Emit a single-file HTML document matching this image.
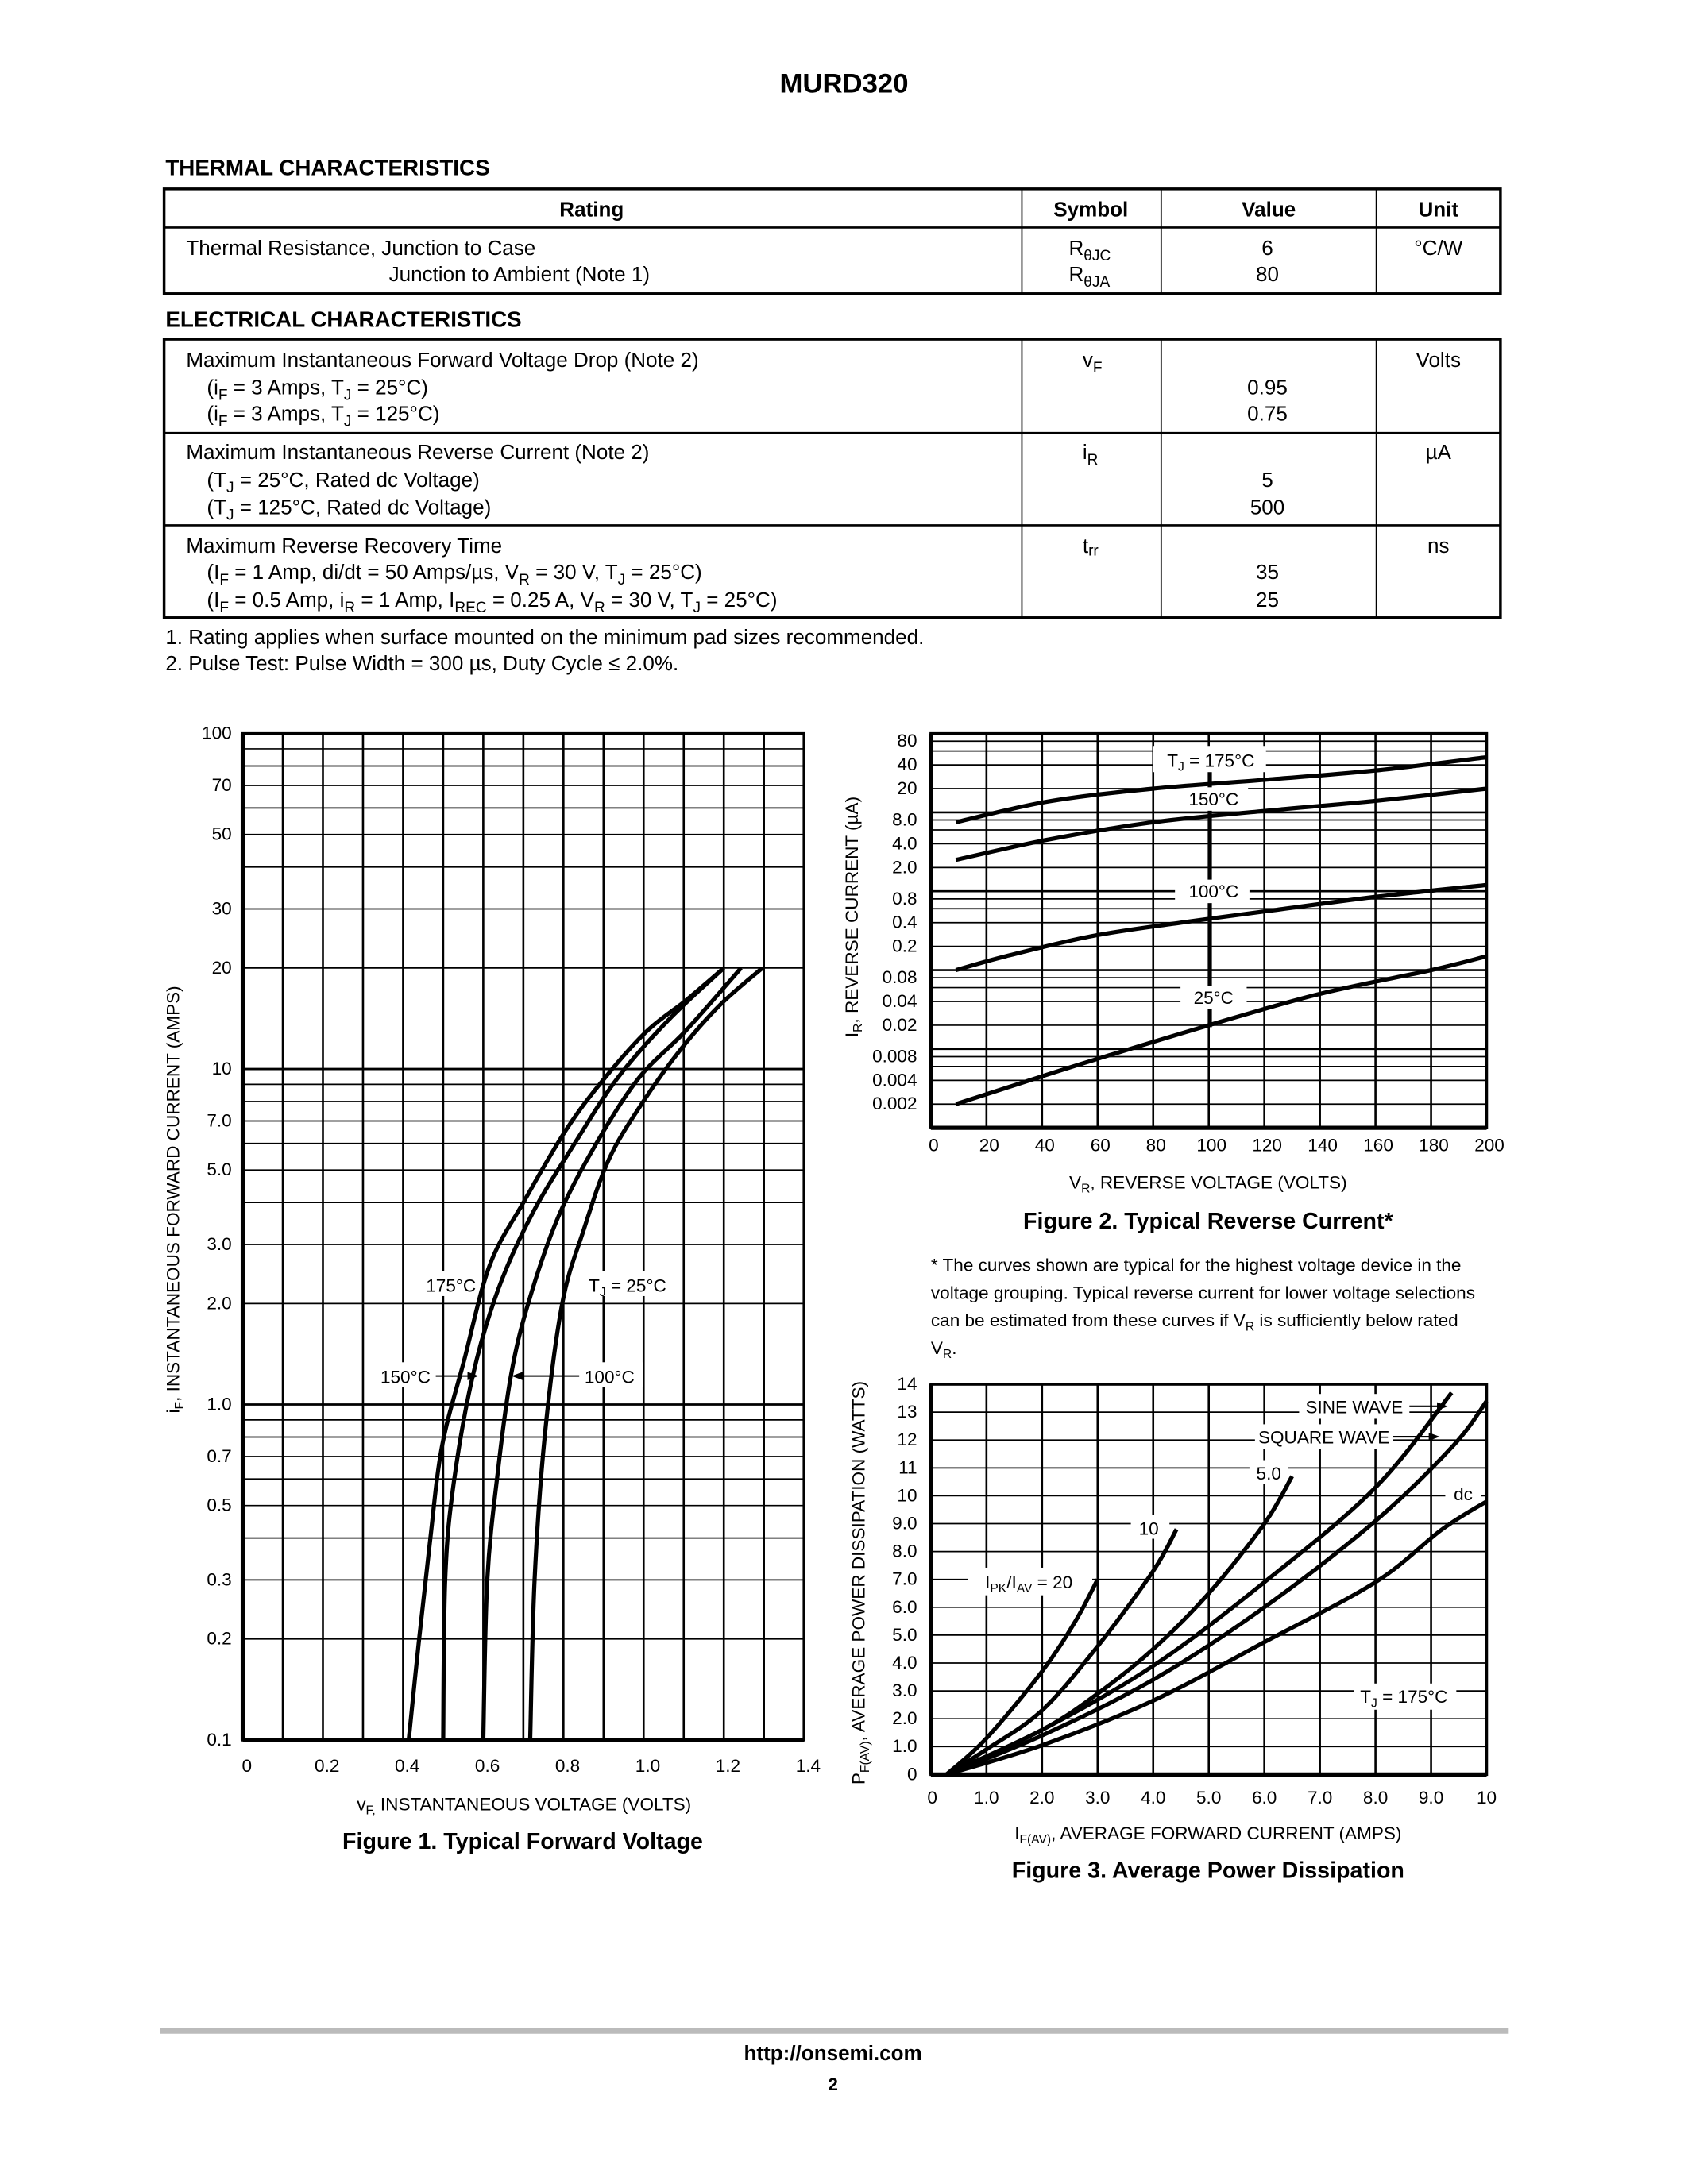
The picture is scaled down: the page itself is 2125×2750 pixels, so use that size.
<!DOCTYPE html>
<html><head><meta charset="utf-8">
<style>
html,body{margin:0;padding:0;background:#fff;}
svg{display:block;font-family:"Liberation Sans",sans-serif;}
</style></head><body>
<svg id="s" width="2125" height="2750" viewBox="0 0 1224 1584" preserveAspectRatio="none" xmlns="http://www.w3.org/2000/svg">
<rect width="1224" height="1584" fill="#fff"/>
<text x="612" y="67" font-size="20" font-weight="bold" text-anchor="middle">MURD320</text>
<text x="120" y="127" font-size="16" font-weight="bold">THERMAL CHARACTERISTICS</text>
<g stroke="#000" fill="none">
<rect x="119" y="137" width="969" height="76" stroke-width="2"/>
<line x1="119" y1="165" x2="1088" y2="165" stroke-width="1.5"/>
<line x1="741" y1="137" x2="741" y2="213" stroke-width="1"/>
<line x1="842" y1="137" x2="842" y2="213" stroke-width="1"/>
<line x1="998" y1="137" x2="998" y2="213" stroke-width="1"/>
<rect x="119" y="246" width="969" height="202" stroke-width="2"/>
<line x1="119" y1="314" x2="1088" y2="314" stroke-width="1.5"/>
<line x1="119" y1="381" x2="1088" y2="381" stroke-width="1.5"/>
<line x1="741" y1="246" x2="741" y2="448" stroke-width="1"/>
<line x1="842" y1="246" x2="842" y2="448" stroke-width="1"/>
<line x1="998" y1="246" x2="998" y2="448" stroke-width="1"/>
</g>
<g font-size="15">
<g font-weight="bold" text-anchor="middle"><text x="429" y="157">Rating</text><text x="791" y="157">Symbol</text><text x="920" y="157">Value</text><text x="1043" y="157">Unit</text></g>
<text x="135" y="185">Thermal Resistance, Junction to Case</text>
<text x="282" y="204">Junction to Ambient (Note 1)</text>
<text x="775" y="185">R<tspan font-size="11" dy="4">θJC</tspan></text>
<text x="775" y="204">R<tspan font-size="11" dy="4">θJA</tspan></text>
<g text-anchor="middle"><text x="919" y="185">6</text><text x="919" y="204">80</text><text x="1043" y="185">°C/W</text></g>
</g>
<text x="120" y="237" font-size="16" font-weight="bold">ELECTRICAL CHARACTERISTICS</text>
<g font-size="15">
<text x="135" y="266">Maximum Instantaneous Forward Voltage Drop (Note 2)</text>
<text x="150" y="286">(i<tspan font-size="11" dy="4">F</tspan><tspan dy="-4"> = 3 Amps, T</tspan><tspan font-size="11" dy="4">J</tspan><tspan dy="-4"> = 25°C)</tspan></text>
<text x="150" y="305">(i<tspan font-size="11" dy="4">F</tspan><tspan dy="-4"> = 3 Amps, T</tspan><tspan font-size="11" dy="4">J</tspan><tspan dy="-4"> = 125°C)</tspan></text>
<text x="135" y="333">Maximum Instantaneous Reverse Current (Note 2)</text>
<text x="150" y="353">(T<tspan font-size="11" dy="4">J</tspan><tspan dy="-4"> = 25°C, Rated dc Voltage)</tspan></text>
<text x="150" y="373">(T<tspan font-size="11" dy="4">J</tspan><tspan dy="-4"> = 125°C, Rated dc Voltage)</tspan></text>
<text x="135" y="401">Maximum Reverse Recovery Time</text>
<text x="150" y="420">(I<tspan font-size="11" dy="4">F</tspan><tspan dy="-4"> = 1 Amp, di/dt = 50 Amps/µs, V</tspan><tspan font-size="11" dy="4">R</tspan><tspan dy="-4"> = 30 V, T</tspan><tspan font-size="11" dy="4">J</tspan><tspan dy="-4"> = 25°C)</tspan></text>
<text x="150" y="440">(I<tspan font-size="11" dy="4">F</tspan><tspan dy="-4"> = 0.5 Amp, i</tspan><tspan font-size="11" dy="4">R</tspan><tspan dy="-4"> = 1 Amp, I</tspan><tspan font-size="11" dy="4">REC</tspan><tspan dy="-4"> = 0.25 A, V</tspan><tspan font-size="11" dy="4">R</tspan><tspan dy="-4"> = 30 V, T</tspan><tspan font-size="11" dy="4">J</tspan><tspan dy="-4"> = 25°C)</tspan></text>
<text x="785" y="266">v<tspan font-size="11" dy="4">F</tspan></text>
<text x="785" y="333">i<tspan font-size="11" dy="4">R</tspan></text>
<text x="785" y="401">t<tspan font-size="11" dy="2">rr</tspan></text>
<g text-anchor="middle">
<text x="919" y="286">0.95</text><text x="919" y="305">0.75</text>
<text x="919" y="353">5</text><text x="919" y="373">500</text>
<text x="919" y="420">35</text><text x="919" y="440">25</text>
<text x="1043" y="266">Volts</text><text x="1043" y="333">µA</text><text x="1043" y="401">ns</text>
</g>
<text x="120" y="467">1.  Rating applies when surface mounted on the minimum pad sizes recommended.</text>
<text x="120" y="486">2.  Pulse Test: Pulse Width = 300 µs, Duty Cycle ≤ 2.0%.</text>
</g>
<g id="g1"></g><g id="g2"></g><g id="g3"></g>
<g font-size="13" text-anchor="middle">
<text x="380" y="1313">v<tspan font-size="9" dy="3">F,</tspan><tspan dy="-3"> INSTANTANEOUS VOLTAGE (VOLTS)</tspan></text>
<text transform="translate(130,870) rotate(-90)">i<tspan font-size="9" dy="3">F</tspan><tspan dy="-3">, INSTANTANEOUS FORWARD CURRENT (AMPS)</tspan></text>
<text x="876" y="862">V<tspan font-size="9" dy="3">R</tspan><tspan dy="-3">, REVERSE VOLTAGE (VOLTS)</tspan></text>
<text transform="translate(622,665) rotate(-90)">I<tspan font-size="9" dy="3">R</tspan><tspan dy="-3">, REVERSE CURRENT (µA)</tspan></text>
<text x="876" y="1334">I<tspan font-size="9" dy="3">F(AV)</tspan><tspan dy="-3">, AVERAGE FORWARD CURRENT (AMPS)</tspan></text>
<text transform="translate(627,1148) rotate(-90)">P<tspan font-size="9" dy="3">F(AV)</tspan><tspan dy="-3">, AVERAGE POWER DISSIPATION (WATTS)</tspan></text>
</g>
<g font-size="16.5" font-weight="bold" text-anchor="middle">
<text x="379" y="1341">Figure 1. Typical Forward Voltage</text>
<text x="876" y="891">Figure 2. Typical Reverse Current*</text>
<text x="876" y="1362">Figure 3. Average Power Dissipation</text>
</g>
<g font-size="13">
<text x="675" y="922">* The curves shown are typical for the highest voltage device in the</text>
<text x="675" y="942">voltage grouping. Typical reverse current for lower voltage selections</text>
<text x="675" y="962">can be estimated from these curves if V<tspan font-size="9" dy="3">R</tspan><tspan dy="-3"> is sufficiently below rated</tspan></text>
<text x="675" y="982">V<tspan font-size="9" dy="3">R</tspan><tspan dy="-3">.</tspan></text>
</g>
<line x1="116" y1="1473" x2="1094" y2="1473" stroke="#bbb" stroke-width="4"/>
<text x="604" y="1494" font-size="15" font-weight="bold" text-anchor="middle">http://onsemi.com</text>
<text x="604" y="1516" font-size="13" font-weight="bold" text-anchor="middle">2</text>
</svg>
<script>
var NS="http://www.w3.org/2000/svg";
function el(p,t,a,txt){var e=document.createElementNS(NS,t);for(var k in a)e.setAttribute(k,a[k]);if(txt!==undefined)e.textContent=txt;p.appendChild(e);return e;}
function ln(p,x1,y1,x2,y2,w){el(p,"line",{x1:x1,y1:y1,x2:x2,y2:y2,stroke:"#000","stroke-width":w||1});}
function path(p,pts,w){var d="M"+pts[0][0]+","+pts[0][1];
for(var i=0;i<pts.length-1;i++){var p0=pts[i-1]||pts[i],p1=pts[i],p2=pts[i+1],p3=pts[i+2]||p2;
d+=" C"+(p1[0]+(p2[0]-p0[0])/6)+","+(p1[1]+(p2[1]-p0[1])/6)+" "+(p2[0]-(p3[0]-p1[0])/6)+","+(p2[1]-(p3[1]-p1[1])/6)+" "+p2[0]+","+p2[1];}
el(p,"path",{d:d,fill:"none",stroke:"#000","stroke-width":w||3,"stroke-linejoin":"round"});}
function txt(p,x,y,s,anc){return el(p,"text",{x:x,y:y,"font-size":13,"text-anchor":anc||"middle"},s);}
function box(p,x,y,w,h){el(p,"rect",{x:x,y:y,width:w,height:h,fill:"#fff"});}
// FIG1
var g=document.getElementById("g1");
var L=176,R=583,T=532,B=1262;
function X1(v){return L+v/1.4*(R-L);} function Y1(i){return B-Math.log10(i/0.1)*(B-T)/3;}
for(var v=0.1;v<1.39;v+=0.1)ln(g,X1(v),T,X1(v),B,1.5);
[0.1,1,10].forEach(function(d){for(var m=1;m<=9;m++){if(d==0.1&&m==1)continue;var y=Y1(d*m);ln(g,L,y,R,y,(m==1)?1.6:1);}});
ln(g,L,T,R,T,1.5);
el(g,"rect",{x:L,y:T,width:R-L,height:B-T,fill:"none",stroke:"#000","stroke-width":2});
ln(g,L,T,L,B,3);ln(g,L,B,R,B,3);
[[100,"100"],[70,"70"],[50,"50"],[30,"30"],[20,"20"],[10,"10"],[7,"7.0"],[5,"5.0"],[3,"3.0"],[2,"2.0"],[1,"1.0"],[0.7,"0.7"],[0.5,"0.5"],[0.3,"0.3"],[0.2,"0.2"],[0.1,"0.1"]].forEach(function(a){txt(g,168,Y1(a[0])+4,a[1],"end");});
["0","0.2","0.4","0.6","0.8","1.0","1.2","1.4"].forEach(function(s,i){txt(g,X1(i*0.2)+3,1285,s);});
function c1(a){return a.map(function(q){return [X1(q[0]),Y1(q[1])];});}
box(g,303,922,46,18);box(g,420,922,70,18);box(g,270,988,50,18);box(g,420,988,46,18);
txt(g,327,937,"175°C");
var t=txt(g,455,937,"T");el(t,"tspan",{"font-size":9,dy:3},"J");el(t,"tspan",{dy:-3}," = 25°C");
txt(g,294,1003,"150°C");txt(g,442,1003,"100°C");
ln(g,316,998,345,998,1.2);el(g,"path",{d:"M347,998 l-8,-3 l0,6z"});
ln(g,420,998,374,998,1.2);el(g,"path",{d:"M371,998 l8,-3 l0,6z"});
path(g,c1([[0.414,0.1],[0.44,0.2],[0.467,0.39],[0.497,0.75],[0.552,1.35],[0.616,2.6],[0.70,4.0],[0.807,6.6],[0.903,9.4],[1.009,13],[1.105,16],[1.2,20]]));
path(g,c1([[0.5,0.1],[0.505,0.3],[0.526,0.58],[0.574,1.22],[0.637,2.2],[0.722,3.7],[0.828,6],[0.935,9.4],[1.062,14],[1.2,20]]));
path(g,c1([[0.6,0.1],[0.61,0.3],[0.637,0.64],[0.669,1.22],[0.712,2],[0.786,3.6],[0.882,6],[0.988,9.4],[1.105,13],[1.243,20]]));
path(g,c1([[0.717,0.1],[0.728,0.3],[0.754,0.82],[0.797,2],[0.85,3.3],[0.914,5.4],[0.999,8],[1.094,11.5],[1.19,15.5],[1.296,20]]));
// FIG2
g=document.getElementById("g2");
L=675;R=1078;T=532;B=818;
function X2(v){return L+v/200*(R-L);} function Y2(i){return B-(Math.log10(i)+3)*(B-T)/5;}
for(v=20;v<200;v+=20)ln(g,X2(v),T,X2(v),B,1.5);
[0.001,0.01,0.1,1,10].forEach(function(d){[1,2,4,6,8].forEach(function(m){if(d==0.001&&m==1)return;var y=Y2(d*m);ln(g,L,y,R,y,m==1?1.5:1);});});
ln(g,L,T,R,T,1.5);
el(g,"rect",{x:L,y:T,width:R-L,height:B-T,fill:"none",stroke:"#000","stroke-width":2});
ln(g,L,T,L,B,3);ln(g,L,B,R,B,3);
["80","40","20","8.0","4.0","2.0","0.8","0.4","0.2","0.08","0.04","0.02","0.008","0.004","0.002"].forEach(function(s){txt(g,665,Y2(parseFloat(s))+4,s,"end");});
for(v=0;v<=200;v+=20)txt(g,X2(v)+2,835,""+v);
function c2(a){return a.map(function(q){return [X2(q[0]),Y2(q[1])];});}
box(g,836,541,82,19);box(g,853,571,52,17);box(g,852,638,54,17);box(g,856,715,48,17);
ln(g,878,560,878,571,1.5);ln(g,878,588,878,638,1.5);ln(g,878,655,878,715,1.5);ln(g,878,732,878,745,1.5);
t=txt(g,878,556,"T");el(t,"tspan",{"font-size":9,dy:3},"J");el(t,"tspan",{dy:-3}," = 175°C");
txt(g,880,584,"150°C");txt(g,880,651,"100°C");txt(g,880,728,"25°C");
path(g,c2([[9,7.5],[42,13.7],[80,20],[121,26],[160,34],[200,50]]));
path(g,c2([[9,2.5],[42,4.5],[80,7.5],[121,10.5],[160,14],[200,20]]));
path(g,c2([[9,0.1],[27,0.15],[58,0.27],[90,0.4],[121,0.56],[160,0.85],[200,1.2]]));
path(g,c2([[9,0.002],[40,0.0045],[60,0.0075],[100,0.02],[140,0.05],[180,0.1],[200,0.15]]));
// FIG3
g=document.getElementById("g3");
L=675;R=1078;T=1004;B=1287;
function X3(v){return L+v/10*(R-L);} function Y3(i){return B-i/14*(B-T);}
for(v=1;v<10;v++)ln(g,X3(v),T,X3(v),B,1.5);
for(v=1;v<14;v++)ln(g,L,Y3(v),R,Y3(v),1);
el(g,"rect",{x:L,y:T,width:R-L,height:B-T,fill:"none",stroke:"#000","stroke-width":2});
ln(g,L,T,L,B,3);ln(g,L,B,R,B,3);
["0","1.0","2.0","3.0","4.0","5.0","6.0","7.0","8.0","9.0","10","11","12","13","14"].forEach(function(s,i){txt(g,665,Y3(i)+4,s,"end");});
["0","1.0","2.0","3.0","4.0","5.0","6.0","7.0","8.0","9.0","10"].forEach(function(s,i){txt(g,X3(i)+(i==0?1:0),1308,s);});
function c3(a){return a.map(function(q){return [X3(q[0]),Y3(q[1])];});}
box(g,942,1011,80,18);box(g,910,1033,100,18);box(g,906,1059,28,17);box(g,820,1099,28,17);box(g,702,1137,90,20);box(g,1048,1075,26,17);box(g,982,1221,74,19);
txt(g,982,1025,"SINE WAVE");txt(g,960,1047,"SQUARE WAVE");txt(g,920,1073,"5.0");txt(g,833,1113,"10");txt(g,1061,1088,"dc");
t=txt(g,746,1152,"I");el(t,"tspan",{"font-size":9,dy:3},"PK");el(t,"tspan",{dy:-3},"/I");el(t,"tspan",{"font-size":9,dy:3},"AV");el(t,"tspan",{dy:-3}," = 20");
t=txt(g,1018,1235,"T");el(t,"tspan",{"font-size":9,dy:3},"J");el(t,"tspan",{dy:-3}," = 175°C");
ln(g,1022,1020,1046,1020,1.2);el(g,"path",{d:"M1050,1020 l-8,-3 l0,6z"});
ln(g,1010,1042,1040,1042,1.2);el(g,"path",{d:"M1044,1042 l-8,-3 l0,6z"});
path(g,c3([[0.28,0],[1,1.3],[2,3.7],[2.6,5.5],[3,7.0]]));
path(g,c3([[0.28,0],[1,0.9],[2,2.3],[3,4.6],[4,7.3],[4.42,8.8]]));
path(g,c3([[0.28,0],[2,1.6],[3,2.9],[4,4.5],[5,6.5],[6,9.0],[6.5,10.7]]));
path(g,c3([[0.28,0],[2,1.6],[4,3.9],[6,6.9],[8,10.3],[9.37,13.7]]));
path(g,c3([[0.28,0],[2,1.4],[4,3.4],[6,6.0],[8,9.1],[9.4,11.8],[10,13.4]]));
path(g,c3([[0.28,0],[2,1.05],[4,2.65],[6,4.75],[8,6.9],[9.2,8.8],[10,9.8]]));
</script>
</body></html>
